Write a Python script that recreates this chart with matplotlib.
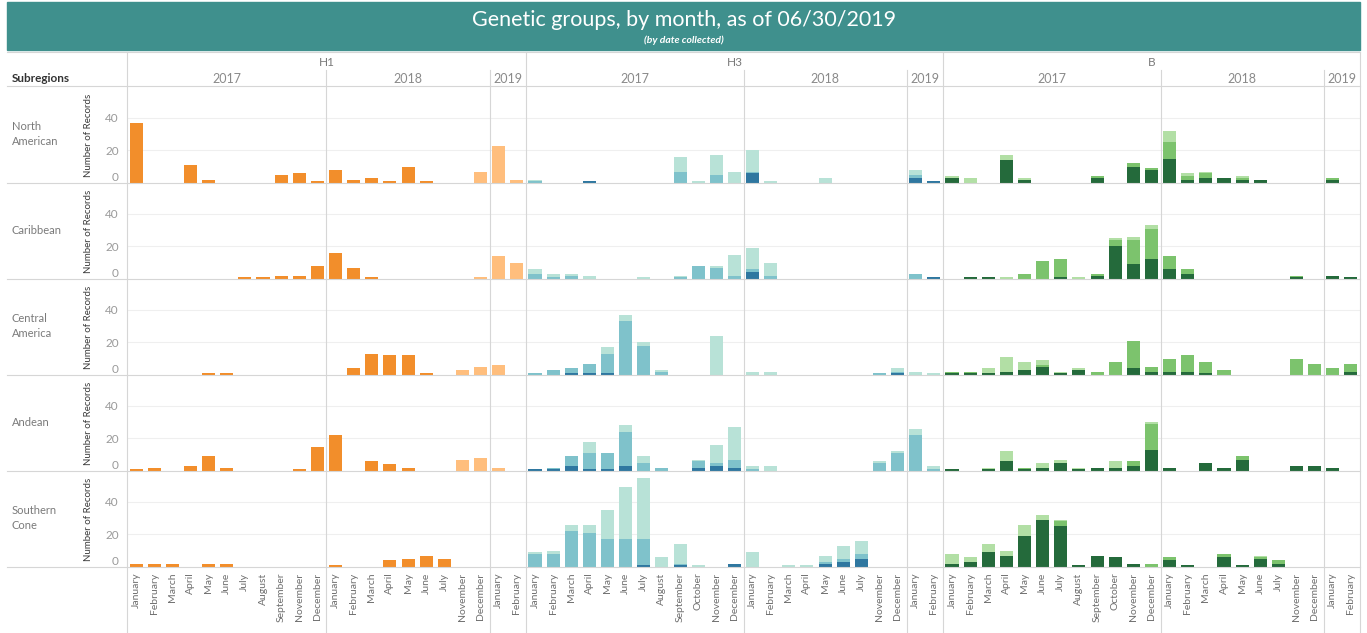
import numpy as np
import matplotlib
matplotlib.use("Agg")
import matplotlib.pyplot as plt
from matplotlib.patches import Rectangle
from matplotlib.lines import Line2D
from matplotlib.transforms import blended_transform_factory

plt.rcParams['font.family'] = ['Lato', 'DejaVu Sans']

W, H = 1367, 633

# month columns per year panel (only months that have data somewhere)
months_full = ['January', 'February', 'March', 'April', 'May', 'June', 'July',
               'August', 'September', 'October', 'November', 'December']
months_h1_2017 = ['January', 'February', 'March', 'April', 'May', 'June', 'July',
                  'August', 'September', 'November', 'December']
months_2018 = ['January', 'February', 'March', 'April', 'May', 'June', 'July',
               'November', 'December']
months_2019 = ['January', 'February']

subregions = ['North American', 'Caribbean', 'Central America', 'Andean', 'Southern Cone']
row_labels = ['North\nAmerican', 'Caribbean', 'Central\nAmerica', 'Andean', 'Southern\nCone']

# H1: 2017 (11) + 2018 (9) + 2019 (2)
h1_dark = {
    'North American': [37, 0, 0, 11, 2, 0, 0, 0, 5, 6, 1,  8, 2, 3, 1, 10, 1, 0, 0, 0,  0, 0],
    'Caribbean':      [0, 0, 0, 0, 0, 0, 1, 1, 2, 2, 8,  16, 7, 1, 0, 0, 0, 0, 0, 0,  0, 0],
    'Central America':[0, 0, 0, 0, 1, 1, 0, 0, 0, 0, 0,  0, 4, 13, 12, 12, 1, 0, 0, 0,  0, 0],
    'Andean':         [1, 2, 0, 3, 9, 2, 0, 0, 0, 1, 15,  22, 0, 6, 4, 2, 0, 0, 0, 0,  0, 0],
    'Southern Cone':  [2, 2, 2, 0, 2, 2, 0, 0, 0, 0, 0,  1, 0, 0, 4, 5, 7, 5, 0, 0,  0, 0],
}
h1_light = {
    'North American': [0] * 11 + [0, 0, 0, 0, 0, 0, 0, 0, 7] + [23, 2],
    'Caribbean':      [0] * 11 + [0, 0, 0, 0, 0, 0, 0, 0, 1] + [14, 10],
    'Central America':[0] * 11 + [0, 0, 0, 0, 0, 0, 0, 3, 5] + [6, 0],
    'Andean':         [0] * 11 + [0, 0, 0, 0, 0, 0, 0, 7, 8] + [2, 0],
    'Southern Cone':  [0] * 22,
}

# H3: 2017 (12) + 2018 (9) + 2019 (2)
h3_dark = {
    'North American': [0, 0, 0, 1, 0, 0, 0, 0, 0, 0, 0, 0,  6, 0, 0, 0, 0, 0, 0, 0, 0,  3, 1],
    'Caribbean':      [0] * 12 + [4, 0, 0, 0, 0, 0, 0, 0, 0] + [0, 1],
    'Central America':[0, 0, 1, 1, 1, 0, 0, 0, 0, 0, 0, 0,  0, 0, 0, 0, 0, 0, 0, 0, 1,  0, 0],
    'Andean':         [1, 1, 3, 1, 1, 3, 0, 0, 0, 2, 3, 2,  0, 0, 0, 0, 0, 0, 0, 0, 0,  0, 0],
    'Southern Cone':  [0, 0, 0, 0, 0, 0, 1, 0, 1, 0, 0, 2,  0, 0, 0, 0, 2, 3, 5, 0, 0,  0, 0],
}
h3_mid = {
    'North American': [1, 0, 0, 0, 0, 0, 0, 0, 7, 0, 5, 0,  1, 0, 0, 0, 0, 0, 0, 0, 0,  2, 0],
    'Caribbean':      [3, 1, 2, 0, 0, 0, 0, 0, 1, 8, 7, 2,  2, 2, 0, 0, 0, 0, 0, 0, 0,  3, 0],
    'Central America':[1, 3, 3, 6, 12, 33, 18, 2, 0, 0, 0, 0,  0, 0, 0, 0, 0, 0, 0, 1, 1,  0, 0],
    'Andean':         [0, 1, 6, 10, 10, 21, 5, 2, 0, 4, 2, 5,  1, 0, 0, 0, 0, 0, 0, 5, 11,  22, 1],
    'Southern Cone':  [8, 8, 22, 21, 17, 17, 16, 0, 1, 0, 0, 0,  0, 0, 0, 0, 1, 2, 3, 0, 0,  0, 0],
}
h3_light = {
    'North American': [1, 0, 0, 0, 0, 0, 0, 0, 9, 1, 12, 7,  13, 1, 0, 0, 3, 0, 0, 0, 0,  3, 0],
    'Caribbean':      [3, 2, 1, 2, 0, 0, 1, 0, 1, 0, 1, 13,  13, 8, 0, 0, 0, 0, 0, 0, 0,  0, 0],
    'Central America':[0, 0, 0, 0, 4, 4, 2, 1, 0, 0, 24, 0,  2, 2, 0, 0, 0, 0, 0, 0, 2,  2, 1],
    'Andean':         [0, 0, 0, 7, 0, 4, 4, 0, 0, 1, 11, 20,  2, 3, 0, 0, 0, 0, 0, 1, 1,  4, 2],
    'Southern Cone':  [1, 2, 4, 5, 18, 32, 38, 6, 12, 1, 0, 0,  9, 0, 1, 1, 4, 8, 8, 0, 0,  0, 0],
}

# B: 2017 (12) + 2018 (9) + 2019 (2)
b_dark = {
    'North American': [3, 0, 0, 14, 2, 0, 0, 0, 3, 0, 10, 8,  15, 2, 3, 3, 2, 2, 0, 0, 0,  2, 0],
    'Caribbean':      [0, 1, 1, 0, 0, 0, 1, 0, 2, 20, 9, 12,  6, 3, 0, 0, 0, 0, 0, 1, 0,  2, 1],
    'Central America':[1, 1, 1, 2, 3, 5, 1, 3, 0, 0, 4, 2,  2, 2, 1, 0, 0, 0, 0, 0, 0,  0, 2],
    'Andean':         [1, 0, 1, 6, 1, 2, 5, 1, 2, 2, 3, 13,  2, 0, 5, 2, 7, 0, 0, 3, 3,  2, 0],
    'Southern Cone':  [2, 3, 9, 7, 19, 29, 25, 1, 7, 6, 2, 0,  4, 1, 0, 6, 1, 5, 2, 0, 0,  0, 0],
}
b_mid = {
    'North American': [0, 0, 0, 0, 0, 0, 0, 0, 1, 0, 2, 1,  10, 2, 3, 0, 1, 0, 0, 0, 0,  1, 0],
    'Caribbean':      [0, 0, 0, 0, 3, 11, 11, 0, 1, 4, 15, 19,  8, 3, 0, 0, 0, 0, 0, 1, 0,  0, 0],
    'Central America':[1, 1, 0, 0, 0, 1, 0, 0, 2, 8, 17, 3,  8, 10, 7, 3, 0, 0, 0, 10, 7,  4, 5],
    'Andean':         [0, 0, 0, 0, 1, 0, 0, 0, 0, 0, 3, 16,  0, 0, 0, 0, 2, 0, 0, 0, 0,  0, 0],
    'Southern Cone':  [0, 0, 0, 0, 0, 0, 3, 0, 0, 0, 0, 2,  2, 0, 0, 2, 0, 1, 2, 0, 0,  0, 0],
}
b_light = {
    'North American': [1, 3, 0, 3, 1, 0, 0, 0, 0, 0, 0, 0,  7, 2, 1, 0, 1, 0, 0, 0, 0,  0, 0],
    'Caribbean':      [0, 0, 0, 1, 0, 0, 0, 1, 0, 1, 2, 2,  0, 0, 0, 0, 0, 0, 0, 0, 0,  0, 0],
    'Central America':[0, 0, 3, 9, 5, 3, 1, 1, 0, 0, 0, 0,  0, 0, 0, 0, 0, 0, 0, 0, 0,  0, 0],
    'Andean':         [0, 0, 1, 6, 0, 3, 2, 1, 0, 4, 0, 1,  0, 0, 0, 0, 0, 0, 0, 0, 0,  0, 0],
    'Southern Cone':  [6, 3, 5, 3, 7, 3, 1, 0, 0, 0, 0, 0,  0, 0, 0, 0, 0, 1, 0, 0, 0,  0, 0],
}

h1_colors = ['#F28E2B', '#FFBE7D']
h3_colors = ['#2F77A0', '#7FC2CB', '#B8E2D7']
b_colors = ['#246A3B', '#7CC36D', '#B2DFA5']

groups = [
    ('H1', months_h1_2017 + months_2018 + months_2019, [h1_dark, h1_light], h1_colors,
     [('2017', 11), ('2018', 9), ('2019', 2)]),
    ('H3', months_full + months_2018 + months_2019, [h3_dark, h3_mid, h3_light], h3_colors,
     [('2017', 12), ('2018', 9), ('2019', 2)]),
    ('B', months_full + months_2018 + months_2019, [b_dark, b_mid, b_light], b_colors,
     [('2017', 12), ('2018', 9), ('2019', 2)]),
]

n_cols = sum(len(g[1]) for g in groups)
x_labels = [m for g in groups for m in g[1]]


def fx(px):
    return px / W


def fy(py):
    return 1 - py / H


fig = plt.figure(figsize=(W / 100, H / 100), dpi=100)

# title bar
fig.patches.append(Rectangle((fx(7), fy(50)), fx(1360 - 7), 48 / H,
                             transform=fig.transFigure, color='#3F908D', zorder=0))
fig.text(fx(684), fy(20), 'Genetic groups, by month, as of 06/30/2019',
         ha='center', va='center', color='white', fontsize=15.5)
fig.text(fx(684), fy(40), '(by date collected)', ha='center', va='center', color='white',
         fontsize=7.5, style='italic', weight='bold')

row_top = 87
row_h = 96
plot_left, plot_right = 127, 1360
grid_col = '#d6d6d6'

axes = []
for k, region in enumerate(subregions):
    top = row_top + k * row_h
    ax = fig.add_axes([fx(plot_left), fy(top + row_h), fx(plot_right - plot_left), row_h / H])
    axes.append(ax)

    x0 = 0
    for name, months, layers, colors, years in groups:
        x = np.arange(x0, x0 + len(months))
        bottom = np.zeros(len(months))
        for layer, col in zip(layers, colors):
            vals = np.array(layer[region], dtype=float)
            ax.bar(x, vals, width=0.72, bottom=bottom, color=col, linewidth=0, zorder=3)
            bottom += vals
        x0 += len(months)

    ax.set_xlim(-0.5, n_cols - 0.5)
    ax.set_ylim(0, 59)
    for yg in (20, 40):
        ax.axhline(yg, color='#efefef', lw=0.8, zorder=1)
    for s in ax.spines.values():
        s.set_visible(False)
    ax.set_yticks([0, 20, 40])
    ax.tick_params(axis='y', length=0, labelsize=8.5, labelcolor='#9a9a9a', pad=6)
    ax.get_yticklabels()[0].set_va('bottom')
    ax.set_ylabel('Number of Records', fontsize=7, color='#3a3a3a')
    ax.yaxis.set_label_coords(-34 / (plot_right - plot_left), 0.5)
    ax.set_xticks(range(n_cols))
    if k == len(subregions) - 1:
        ax.set_xticklabels(x_labels, rotation=90, fontsize=7.5, color='#6e6e6e', va='top')
        ax.tick_params(axis='x', length=0, pad=4)
    else:
        ax.tick_params(axis='x', length=0, labelbottom=False)

    fig.text(fx(12), fy(top + 47), row_labels[k], ha='left', va='center',
             fontsize=8, color='#7a7a7a', linespacing=1.5)

# horizontal separators
for yy in [52, 86] + [row_top + (k + 1) * row_h for k in range(len(subregions))]:
    fig.add_artist(Line2D([fx(7), fx(1360)], [fy(yy), fy(yy)], color=grid_col, lw=0.8,
                          transform=fig.transFigure))

# vertical dividers and header labels
trans = blended_transform_factory(axes[0].transData, fig.transFigure)
fig.add_artist(Line2D([-0.5, -0.5], [fy(52), 0], color=grid_col, lw=0.8, transform=trans))
x0 = 0
for name, months, layers, colors, years in groups:
    n = len(months)
    fig.text(x0 + (n - 1) / 2, fy(62), name, transform=trans, ha='center', va='center',
             fontsize=8.5, color='#7a7a7a')
    xs = x0
    for yr, cnt in years:
        fig.text(xs + (cnt - 1) / 2, fy(79), yr, transform=trans, ha='center', va='center',
                 fontsize=9, color='#8a8a8a')
        xs += cnt
        if xs < x0 + n:
            fig.add_artist(Line2D([xs - 0.5, xs - 0.5], [fy(70), 0], color=grid_col, lw=0.8,
                                  transform=trans))
    x0 += n
    fig.add_artist(Line2D([x0 - 0.5, x0 - 0.5], [fy(52), 0], color=grid_col, lw=0.8,
                          transform=trans))

fig.text(fx(12), fy(79), 'Subregions', ha='left', va='center', fontsize=8.5,
         weight='bold', color='#333333')

fig.savefig('out.png', dpi=100)
